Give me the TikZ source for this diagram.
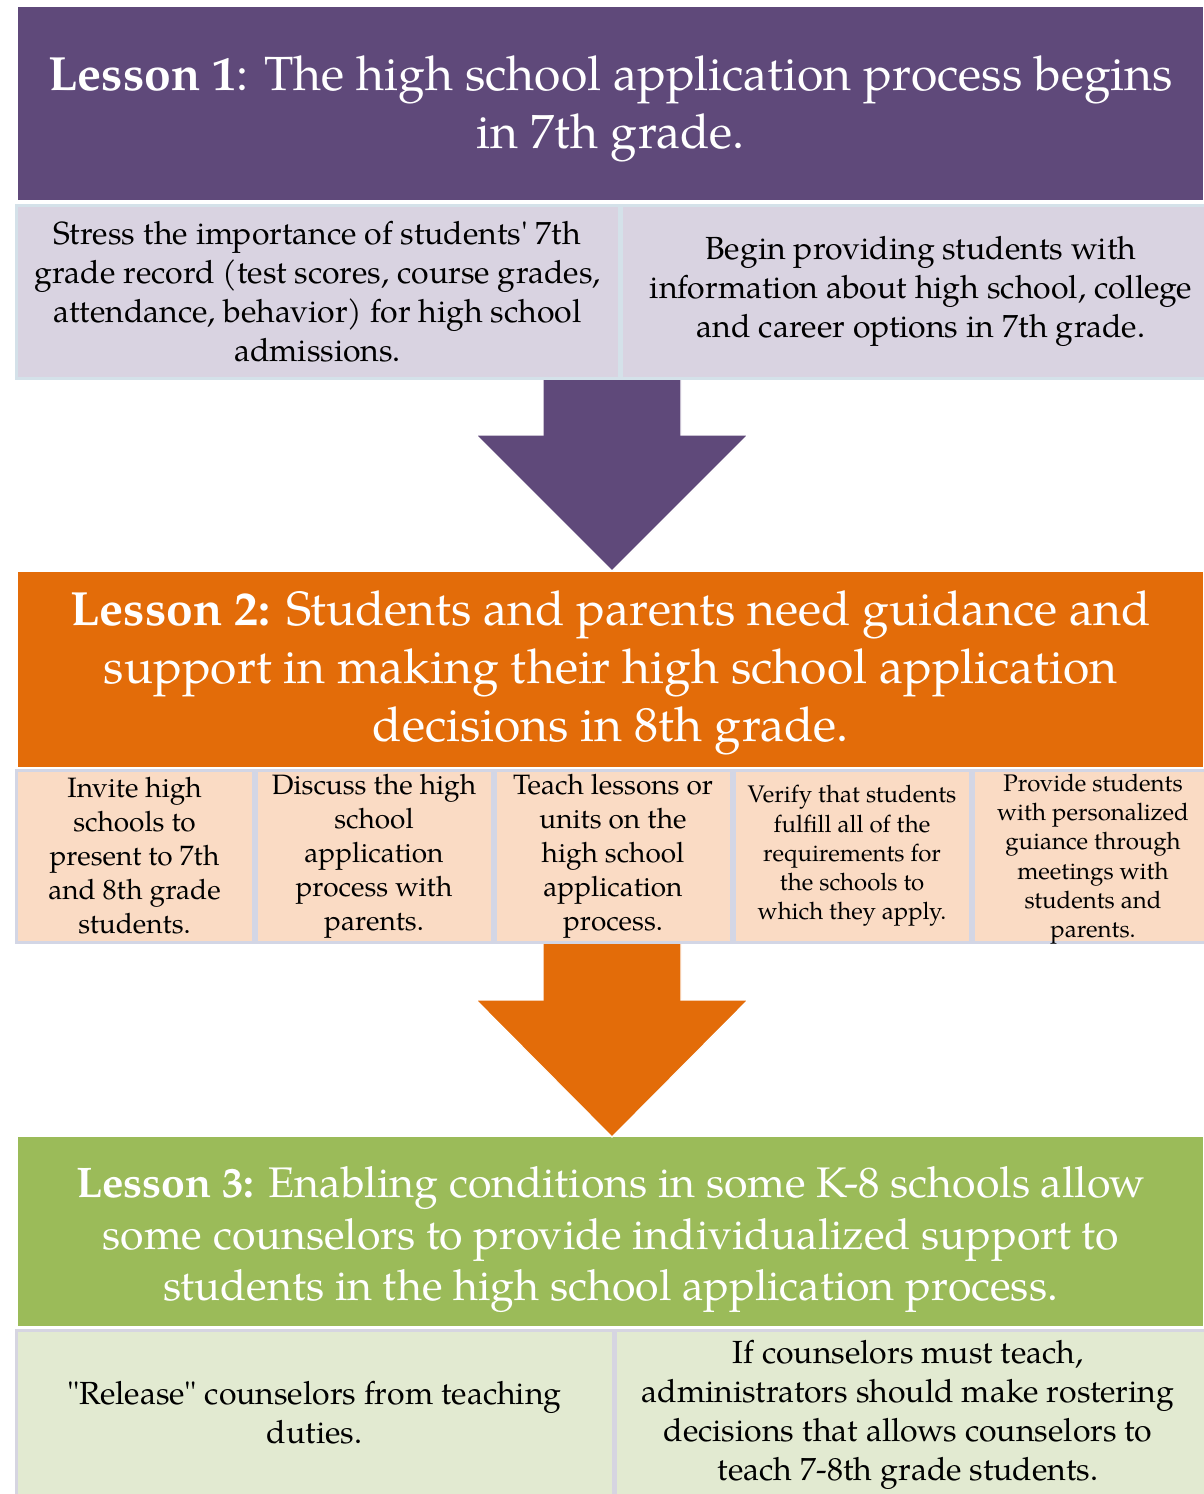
\documentclass[tikz,border=0pt]{standalone}
\usepackage{fontspec}
\setmainfont{TeX Gyre Pagella}
\usetikzlibrary{calc}
\definecolor{cpurple}{HTML}{5F497A}
\definecolor{corange}{HTML}{E36C09}
\definecolor{cgreen}{HTML}{9BBB59}
\definecolor{flav}{HTML}{D9D3E1}
\definecolor{fpeach}{HTML}{FADBC4}
\definecolor{fgreen}{HTML}{E2EAD1}
\definecolor{blav}{HTML}{D4E1E9}
\definecolor{bpeach}{HTML}{D3D6E5}
\definecolor{bgreen}{HTML}{D6D5E1}
\begin{document}
\begin{tikzpicture}[x=1pt,y=-1pt,
  hdr/.style={fill=#1, anchor=north west, minimum width=1185pt,
    inner sep=0pt, draw=none},
  htext/.style={text=white, align=center, inner sep=0pt},
  subbox/.style 2 args={fill=#1, draw=#2, line width=3pt, anchor=north west,
    inner sep=0pt, align=center, text=black},
  subtext/.style={align=center, inner sep=0pt, text=black},
  bigarrow/.style={fill=#1, draw=white, line width=1.2pt}]
\useasboundingbox (0,0) rectangle (1203,1494);
% headers
\node[hdr=cpurple, minimum height=193pt] (h1) at (18,7) {};
\node[hdr=corange, minimum height=195pt] (h2) at (18,572) {};
\node[hdr=cgreen, minimum height=189pt] (h3) at (18,1137) {};
\node[htext, font=\fontsize{48}{58}\selectfont] (h1t) at ($(h1.center)+(0,5)$)
  {\textbf{Lesson 1}: The high school application process begins\\ in 7th grade.};
\node[htext, font=\fontsize{48}{58}\selectfont] (h2t) at ($(h2.center)+(0,3)$)
  {\textbf{Lesson 2:} Students and parents need guidance and\\ support in making their high school application\\ decisions in 8th grade.};
\node[htext, font=\fontsize{42.8}{51.5}\selectfont] (h3t) at ($(h3.center)+(0,8)$)
  {\textbf{Lesson 3:} Enabling conditions in some K-8 schools allow\\ some counselors to provide individualized support to\\ students in the high school application process.};
% arrows
\coordinate (a1top) at (612,370);
\coordinate (a1tip) at (612,571);
\coordinate (a2top) at (612,935);
\coordinate (a2tip) at (612,1137);
\draw[bigarrow=cpurple] ($(a1top)+(-69,0)$) -- ($(a1top)+(69,0)$) -- ($(a1tip)+(69,-136)$)
  -- ($(a1tip)+(136,-136)$) -- (a1tip) -- ($(a1tip)+(-136,-136)$) -- ($(a1tip)+(-69,-136)$) -- cycle;
\draw[bigarrow=corange] ($(a2top)+(-69,0)$) -- ($(a2top)+(69,0)$) -- ($(a2tip)+(69,-137)$)
  -- ($(a2tip)+(136,-137)$) -- (a2tip) -- ($(a2tip)+(-136,-137)$) -- ($(a2tip)+(-69,-137)$) -- cycle;
% lesson 1 sub boxes
\begin{scope}[font=\fontsize{32}{39}\selectfont]
\node[subbox={flav}{blav}, minimum width=603pt, minimum height=173pt] (s11) at (14.5,203.5)
  {Stress the importance of students\textquotesingle\ 7th\\ grade record (test scores, course grades,\\ attendance, behavior) for high school\\ admissions.};
\node[subbox={flav}{blav}, minimum width=600pt, minimum height=173pt] (s12) at (619.5,203.5)
  {Begin providing students with\\ information about high school, college\\ and career options in 7th grade.};
\end{scope}
% lesson 2 sub boxes
\begin{scope}[font=\fontsize{28}{34}\selectfont]
\node[subbox={fpeach}{bpeach}, minimum width=237pt, minimum height=172pt] (s21) at (14.5,768.5)
  {Invite high\\ schools to\\ present to 7th\\ and 8th grade\\ students.};
\node[subbox={fpeach}{bpeach}, minimum width=236pt, minimum height=172pt] (s22) at (254.5,768.5)
  {Discuss the high\\ school\\ application\\ process with\\ parents.};
\node[subbox={fpeach}{bpeach}, minimum width=236pt, minimum height=172pt] (s23) at (493.5,768.5)
  {Teach lessons or\\ units on the\\ high school\\ application\\ process.};
\node[subbox={fpeach}{bpeach}, minimum width=236pt, minimum height=172pt, font=\fontsize{24}{29.3}\selectfont] (s24) at (732.5,768.5)
  {Verify that students\\ fulfill all of the\\ requirements for\\ the schools to\\ which they apply.};
\node[subbox={fpeach}{bpeach}, minimum width=240pt, minimum height=172pt] (s25) at (971.5,768.5) {};
\node[subtext, font=\fontsize{24}{29.3}\selectfont] (t25) at ($(s25.center)+(0,3)$)
  {Provide students\\ with personalized\\ guiance through\\ meetings with\\ students and\\ parents.};
\end{scope}
% lesson 3 sub boxes
\node[subbox={fgreen}{bgreen}, minimum width=597pt, minimum height=200pt] (s31) at (14.5,1328.5) {};
\node[subbox={fgreen}{bgreen}, minimum width=600pt, minimum height=200pt] (s32) at (613.5,1328.5) {};
\begin{scope}[font=\fontsize{32}{39}\selectfont]
\node[subtext] (t31) at ($(s31.north)+(0,84)$)
  {\textquotedbl Release\textquotedbl\ counselors from teaching\\ duties.};
\node[subtext] (t32) at (908,1415)
  {If counselors must teach,\\ administrators should make rostering\\ decisions that allows counselors to\\ teach 7-8th grade students.};
\end{scope}
\end{tikzpicture}
\end{document}
